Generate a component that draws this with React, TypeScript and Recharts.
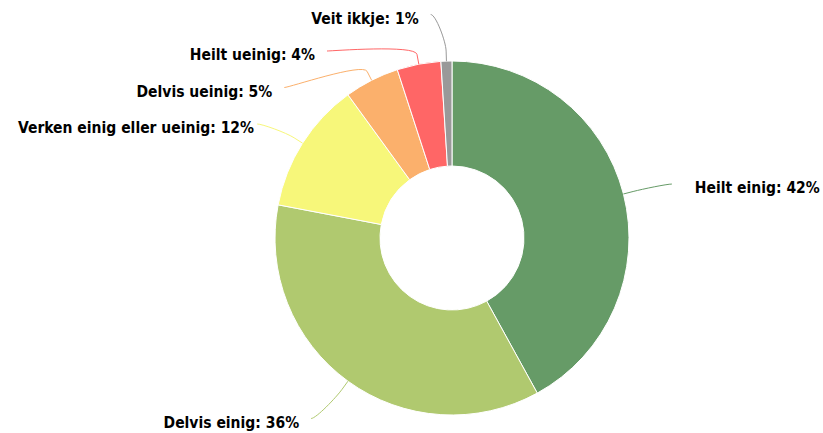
import { PieChart, Pie, Cell } from "recharts";

const categories = [
  "Heilt einig",
  "Delvis einig",
  "Verken einig eller ueinig",
  "Delvis ueinig",
  "Heilt ueinig",
  "Veit ikkje",
];
const shares = [42, 36, 12, 5, 4, 1];
const colors = ["#669b67", "#b0c96f", "#f7f77a", "#fbb06c", "#ff6666", "#999999"];

const W = 823;
const H = 433;
const CX = 452;
const CY = 238;
const OUTER = 177;
const INNER = 72;
const LABEL_DIST = 50;
const GAP = 36.5;
const FONT_FAMILY = "'DejaVu Sans Condensed', 'DejaVu Sans', sans-serif";
const FONT_SIZE = 15.5;

const data = categories.map((name, i) => ({ name, value: shares[i] }));

function measure(text: string) {
  const ctx = document.createElement("canvas").getContext("2d");
  if (!ctx) return text.length * 8;
  ctx.font = `bold ${FONT_SIZE}px ${FONT_FAMILY}`;
  return ctx.measureText(text).width;
}

// spread labels on one side so they don't overlap (roughly what highcharts does)
function distribute(ys: number[], minY: number, maxY: number) {
  let clusters = ys.map((y) => ({ ideal: [y] }));
  const startOf = (c: { ideal: number[] }) => {
    const n = c.ideal.length;
    const mean = c.ideal.reduce((a, b) => a + b, 0) / n;
    let s = mean - ((n - 1) * GAP) / 2;
    s = Math.max(minY, Math.min(s, maxY - (n - 1) * GAP));
    return s;
  };
  let merged = true;
  while (merged) {
    merged = false;
    for (let k = 0; k < clusters.length - 1; k++) {
      const a = clusters[k];
      const b = clusters[k + 1];
      if (startOf(b) < startOf(a) + a.ideal.length * GAP - 0.01) {
        clusters.splice(k, 2, { ideal: [...a.ideal, ...b.ideal] });
        merged = true;
        break;
      }
    }
  }
  const out: number[] = [];
  clusters.forEach((c) => {
    const s = startOf(c);
    c.ideal.forEach((_, j) => out.push(s + j * GAP));
  });
  return out;
}

function buildLayout() {
  const total = shares.reduce((a, b) => a + b, 0);
  let acc = 0;
  const R = OUTER + LABEL_DIST;
  const items = shares.map((v, i) => {
    const start = acc;
    acc += v;
    const rad = ((90 - ((start + v / 2) / total) * 360) * Math.PI) / 180;
    const cos = Math.cos(rad);
    const sin = Math.sin(rad);
    return { i, cos, sin, left: cos < 0, natY: CY - sin * R, y: 0, x: 0 };
  });
  [true, false].forEach((side) => {
    const group = items.filter((it) => it.left === side).sort((a, b) => a.natY - b.natY);
    const ys = distribute(group.map((g) => g.natY), 12, H - 17);
    group.forEach((g, k) => {
      g.y = ys[k];
      const dy = g.y - CY;
      const dx = Math.sqrt(Math.max(0, R * R - dy * dy));
      g.x = CX + (g.left ? -dx : dx);
    });
  });
  return items;
}

export default function App() {
  const layout = buildLayout();

  const renderLabel = (props: any) => {
    const L = layout[props.index];
    const text = `${categories[L.i]}: ${shares[L.i]}%`;
    const w = measure(text);
    const cy = L.y + 2.5;
    const touch = { x: CX + L.cos * OUTER, y: CY - L.sin * OUTER };
    const brk = { x: CX + L.cos * (OUTER + 10), y: CY - L.sin * (OUTER + 10) };
    const c1x = L.x + (L.left ? 5 : -5);
    const d = `M ${L.x} ${cy} C ${c1x} ${cy} ${2 * brk.x - touch.x} ${2 * brk.y - touch.y} ${brk.x} ${brk.y} L ${touch.x} ${touch.y}`;
    let tx = L.left ? L.x - 12 : L.x + 23;
    if (L.left && tx - w < 18) tx = 18 + w;
    return (
      <g key={`lbl-${L.i}`}>
        <path d={d} fill="none" stroke={colors[L.i]} strokeWidth={1} />
        <text
          x={tx}
          y={L.y + 11.5}
          textAnchor={L.left ? "end" : "start"}
          fontFamily={FONT_FAMILY}
          fontWeight="bold"
          fontSize={FONT_SIZE}
          fill="#000000"
        >
          {text}
        </text>
      </g>
    );
  };

  return (
    <div style={{ position: "absolute", left: 0, top: 0, width: W, height: H, background: "#fff" }}>
      <PieChart width={W} height={H} margin={{ top: 0, right: 0, bottom: 0, left: 0 }}>
        <Pie
          data={data}
          dataKey="value"
          nameKey="name"
          cx={CX}
          cy={CY}
          innerRadius={INNER}
          outerRadius={OUTER}
          startAngle={90}
          endAngle={-270}
          stroke="#ffffff"
          strokeWidth={1}
          label={renderLabel}
          labelLine={false}
          isAnimationActive={false}
        >
          {data.map((d, i) => (
            <Cell key={d.name} fill={colors[i]} />
          ))}
        </Pie>
      </PieChart>
    </div>
  );
}
